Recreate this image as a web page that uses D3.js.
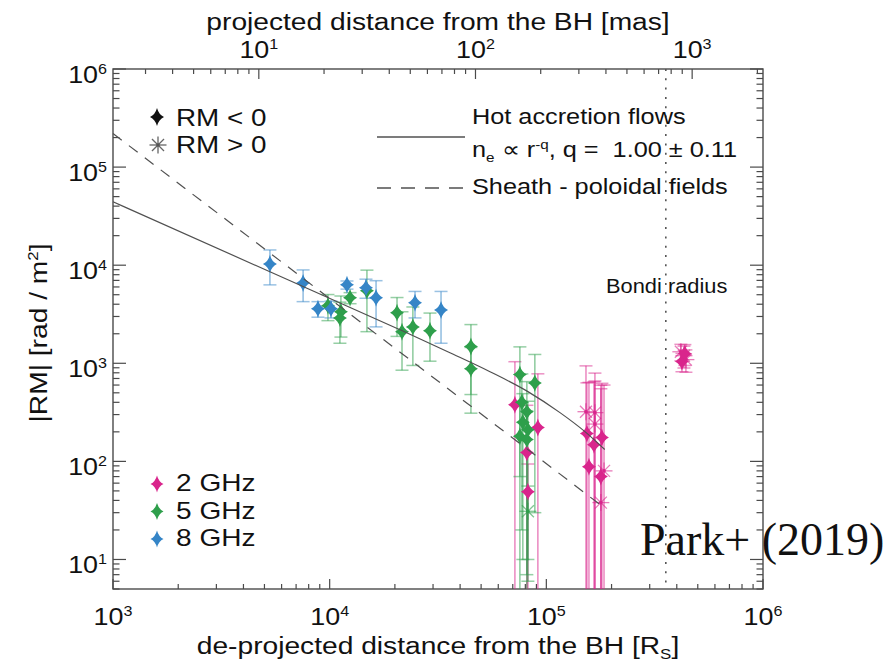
<!DOCTYPE html>
<html>
<head>
<meta charset="utf-8">
<script src="https://cdn.jsdelivr.net/npm/d3@7"></script>
<style>
  body { margin: 0; background: #fff; }
  svg { display: block; }
  text { font-family: "Liberation Sans", Arial, Helvetica, sans-serif; fill: #111; }
</style>
</head>
<body>
<svg id="chart" width="895" height="664"></svg>
<script>
// de-projected distance [R_S], |RM| [rad/m^2], error, sign (-1: RM<0, 1: RM>0)
let dist8 = [5300, 7540, 8830, 10140, 12020, 14710, 16370, 24770, 32660];
let rm8   = [10300, 6600, 3600, 3600, 6300, 5900, 4650, 4150, 3500];
let err8  = [4000, 2350, 650, 700, 600, 1300, 2300, 1250, 1900];
let sign8 = [-1, -1, -1, -1, -1, -1, -1, -1, -1];

let dist5 = [9820, 11270, 11150, 12420, 14860, 20460, 21570, 24210, 29040, 44870, 44870,
    75500, 88500, 77100, 81300, 77900, 82200, 75500, 81300, 82200];
let rm5   = [3870, 3350, 2900, 4650, 5500, 3280, 2100, 2350, 2150, 1480, 880,
    770, 630, 400, 320, 250, 210, 180, 167, 31];
let err5  = [1150, 1500, 1300, 600, 3400, 1400, 1250, 1400, 1100, 1000, 570,
    700, 600, 380, 330, 240, 200, 190, 160, 25];
let sign5 = [-1, -1, -1, -1, -1, -1, -1, -1, -1, -1, -1,
    -1, -1, -1, -1, -1, -1, -1, -1, 1];

let dist2 = [71600, 91400, 81300, 82200, 152400, 167600, 167600, 153900, 180500, 165900,
    157300, 178500, 184600, 178500, 417800, 431600, 440800, 422600, 436000];
let rm2   = [378, 221, 123, 49, 321, 314, 240, 192, 175, 148,
    88, 70, 80, 38, 1310, 1195, 1090, 1040, 1250];
let err2  = [660, 560, 250, 45, 620, 480, 420, 440, 450, 500,
    550, 480, 520, 560, 250, 300, 280, 220, 300];
let sign2 = [-1, -1, -1, -1, 1, 1, 1, -1, -1, -1,
    -1, -1, 1, 1, 1, 1, 1, -1, -1];

// model curves
let hotDist = [1000, 5300, 21110, 35900, 54950, 82200, 115600, 150700, 186000];
let hotRM   = [44300, 8570, 2198, 1282, 821, 514, 314, 201, 132];
let sheathDist = [1000, 182000];
let sheathRM   = [220000, 34.6];

let bondiRadius = 356000;   // R_S
let rsPerMas = 471;         // R_S per mas (top axis)

let colors = { "2 GHz": "#d9258c", "5 GHz": "#2e9f4b", "8 GHz": "#3585c7" };

let svg = d3.select("#chart");
let pLeft = 113, pRight = 763, pTop = 69, pBottom = 589;
let axisColor = "#4a4a4a";

let x = d3.scaleLog().domain([1e3, 1e6]).range([pLeft, pRight]);
let y = d3.scaleLog().domain([5, 1e6]).range([pBottom, pTop]);
let xTop = d3.scaleLog().domain([1e3 / rsPerMas, 1e6 / rsPerMas]).range([pLeft, pRight]);

let isMajor = function (v) {
    return Math.abs(Math.log10(v) - Math.round(Math.log10(v))) < 1e-6;
}

// text with optional super/subscripts, stretched a bit horizontally like the IDL font
let addText = function (g, tx, ty, parts, size, anchor, sx, rotate) {
    let t = g.append("text")
        .attr("transform", "translate(" + tx + "," + ty + ")" + (rotate ? " rotate(" + rotate + ")" : "") + " scale(" + sx + ",1)")
        .attr("text-anchor", anchor || "start")
        .style("font-size", size + "px");
    let shift = 0;
    parts.forEach(function (p) {
        let s = typeof p === "string" ? { t: p } : p;
        let want = s.sup ? -size * 0.38 : (s.sub ? size * 0.22 : 0);
        t.append("tspan")
            .attr("dy", want - shift)
            .style("font-size", (s.sup || s.sub ? size * 0.6 : size) + "px")
            .text(s.t);
        shift = want;
    });
    return t;
}

// ---- frame and ticks ----
let frame = svg.append("g");
frame.append("rect")
    .attr("x", pLeft).attr("y", pTop)
    .attr("width", pRight - pLeft).attr("height", pBottom - pTop)
    .attr("fill", "none").attr("stroke", axisColor).attr("stroke-width", 1.4);

let tickLine = function (x1, y1, x2, y2) {
    frame.append("line")
        .attr("x1", x1).attr("y1", y1).attr("x2", x2).attr("y2", y2)
        .attr("stroke", axisColor).attr("stroke-width", 1.2);
}

x.ticks().forEach(function (v) {
    let len = isMajor(v) ? 10 : 5;
    tickLine(x(v), pBottom, x(v), pBottom - len);
});
xTop.ticks().forEach(function (v) {
    let len = isMajor(v) ? 10 : 5;
    tickLine(xTop(v), pTop, xTop(v), pTop + len);
});
y.ticks().forEach(function (v) {
    let len = isMajor(v) ? 13 : 6.5;
    tickLine(pLeft, y(v), pLeft + len, y(v));
    tickLine(pRight, y(v), pRight - len, y(v));
});

// tick labels
let labels = svg.append("g");
x.ticks().filter(isMajor).forEach(function (v) {
    addText(labels, x(v), 625, ["10", { t: String(Math.round(Math.log10(v))), sup: true }], 24, "middle", 1.12);
});
xTop.ticks().filter(isMajor).forEach(function (v) {
    addText(labels, xTop(v), 58, ["10", { t: String(Math.round(Math.log10(v))), sup: true }], 24, "middle", 1.12);
});
y.ticks().filter(isMajor).forEach(function (v) {
    addText(labels, 107, y(v) + 14, ["10", { t: String(Math.round(Math.log10(v))), sup: true }], 24, "end", 1.12);
});

// axis titles
addText(labels, 438, 30, ["projected distance from the BH [mas]"], 24.5, "middle", 1.15);
addText(labels, 438, 654, ["de-projected distance from the BH [R", { t: "S", sub: true }, "]"], 24.5, "middle", 1.15);
addText(labels, 47, 333, ["|RM| [rad / m", { t: "2", sup: true }, "]"], 24.5, "middle", 1.15, -90);

// ---- Bondi radius ----
let plot = svg.append("g");
plot.append("line")
    .attr("x1", x(bondiRadius)).attr("x2", x(bondiRadius))
    .attr("y1", pTop).attr("y2", pBottom)
    .attr("stroke", "#555").attr("stroke-width", 1.6)
    .attr("stroke-dasharray", "2,7.3");
addText(plot, 606, 293, ["Bondi radius"], 19.5, "start", 1.12);

// ---- data ----
let series = [
    { name: "2 GHz", d: dist2, r: rm2, e: err2, s: sign2 },
    { name: "5 GHz", d: dist5, r: rm5, e: err5, s: sign5 },
    { name: "8 GHz", d: dist8, r: rm8, e: err8, s: sign8 }
];

let star = function (rx, ry) {
    let k = 0.26;
    return "M0," + (-ry) +
        "Q" + (rx * k) + "," + (-ry * k) + " " + rx + ",0" +
        "Q" + (rx * k) + "," + (ry * k) + " 0," + ry +
        "Q" + (-rx * k) + "," + (ry * k) + " " + (-rx) + ",0" +
        "Q" + (-rx * k) + "," + (-ry * k) + " 0," + (-ry) + "Z";
}

let asterisk = function (g, cx, cy, r, color, op) {
    for (let a = 0; a < 4; a++) {
        let ang = a * Math.PI / 4;
        g.append("line")
            .attr("x1", cx - r * Math.cos(ang)).attr("y1", cy - r * Math.sin(ang))
            .attr("x2", cx + r * Math.cos(ang)).attr("y2", cy + r * Math.sin(ang))
            .attr("stroke", color).attr("stroke-width", 1.3).attr("stroke-opacity", op);
    }
    g.append("circle").attr("cx", cx).attr("cy", cy).attr("r", 1.8).attr("fill", color);
}

let yMin = y.domain()[0];
let bars = plot.append("g");
series.forEach(function (s) {
    let c = colors[s.name];
    s.d.forEach(function (dv, i) {
        let hi = s.r[i] + s.e[i];
        let lo = s.r[i] - s.e[i];
        let px = x(dv);
        let yHi = y(hi);
        let yLo = lo > yMin ? y(lo) : pBottom;
        bars.append("line")
            .attr("x1", px).attr("x2", px).attr("y1", yHi).attr("y2", yLo)
            .attr("stroke", c).attr("stroke-width", 1.5).attr("stroke-opacity", 0.55);
        bars.append("line")
            .attr("x1", px - 6.5).attr("x2", px + 6.5).attr("y1", yHi).attr("y2", yHi)
            .attr("stroke", c).attr("stroke-width", 1.5).attr("stroke-opacity", 0.5);
        if (lo > yMin) {
            bars.append("line")
                .attr("x1", px - 6.5).attr("x2", px + 6.5).attr("y1", yLo).attr("y2", yLo)
                .attr("stroke", c).attr("stroke-width", 1.5).attr("stroke-opacity", 0.5);
        }
    });
});

let marks = plot.append("g");
series.forEach(function (s) {
    let c = colors[s.name];
    s.d.forEach(function (dv, i) {
        let px = x(dv), py = y(s.r[i]);
        if (s.s[i] < 0) {
            marks.append("path")
                .attr("d", star(7, 9))
                .attr("transform", "translate(" + px + "," + py + ")")
                .attr("fill", c);
        } else {
            asterisk(marks, px, py, 8.5, c, 0.6);
        }
    });
});

// ---- model lines ----
let hotLine = d3.line()
    .x(function (d) { return x(d[0]); })
    .y(function (d) { return y(d[1]); })
    .curve(d3.curveMonotoneX);

plot.append("path")
    .attr("d", hotLine(d3.zip(hotDist, hotRM)))
    .attr("fill", "none").attr("stroke", "#505050").attr("stroke-width", 1.2);

plot.append("path")
    .attr("d", d3.line()
        .x(function (d) { return x(d[0]); })
        .y(function (d) { return y(d[1]); })(d3.zip(sheathDist, sheathRM)))
    .attr("fill", "none").attr("stroke", "#505050").attr("stroke-width", 1.2)
    .attr("stroke-dasharray", "11,9");

// ---- legends ----
let legend = svg.append("g");
legend.append("path").attr("d", star(7, 9))
    .attr("transform", "translate(157,117)").attr("fill", "#111");
addText(legend, 176, 126, ["RM < 0"], 24, "start", 1.16);
asterisk(legend, 158, 145, 8.5, "#555", 0.9);
addText(legend, 176, 153, ["RM > 0"], 24, "start", 1.16);

["2 GHz", "5 GHz", "8 GHz"].forEach(function (name, i) {
    legend.append("path").attr("d", star(6.5, 8.5))
        .attr("transform", "translate(157," + (484 + i * 27.5) + ")")
        .attr("fill", colors[name]);
    addText(legend, 176, 491 + i * 27.5, [name], 23, "start", 1.22);
});

legend.append("line").attr("x1", 377).attr("x2", 465).attr("y1", 137).attr("y2", 137)
    .attr("stroke", "#505050").attr("stroke-width", 1.3);
legend.append("line").attr("x1", 377).attr("x2", 465).attr("y1", 188).attr("y2", 188)
    .attr("stroke", "#505050").attr("stroke-width", 1.3).attr("stroke-dasharray", "14,10");
addText(legend, 472, 124, ["Hot accretion flows"], 22, "start", 1.15);
addText(legend, 472, 157, ["n", { t: "e", sub: true }, " \u221D r", { t: "-q", sup: true }, ", q = \u00A01.00 \u00B1 0.11"], 22, "start", 1.15);
addText(legend, 472, 194, ["Sheath - poloidal fields"], 22, "start", 1.15);

svg.append("text")
    .attr("x", 640).attr("y", 555)
    .style("font-family", "'Liberation Serif', 'Times New Roman', serif")
    .style("font-size", "46px")
    .text("Park+ (2019)");
</script>
</body>
</html>
